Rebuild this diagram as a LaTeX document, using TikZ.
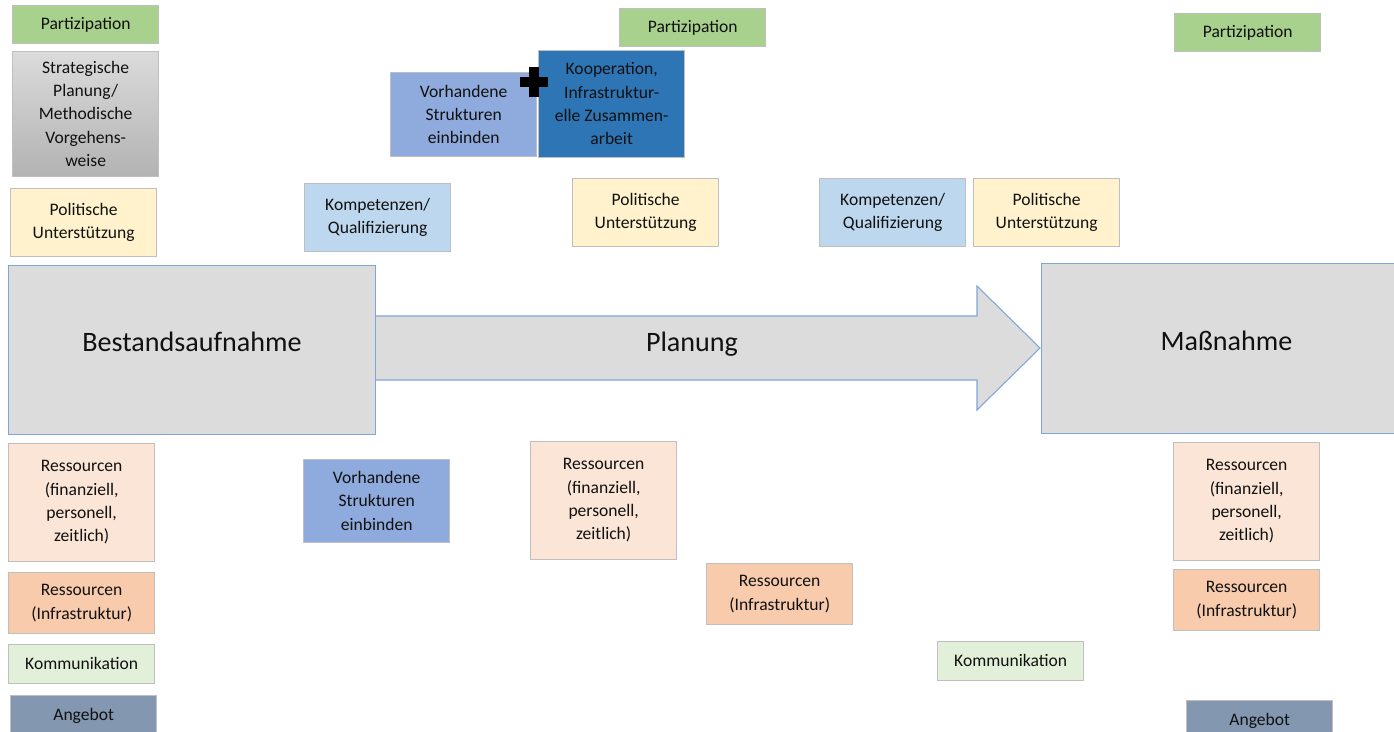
\documentclass[tikz,border=0pt]{standalone}
\usepackage{fontspec}
\setmainfont{Carlito}
\usepackage{tikz}
\usetikzlibrary{shapes}
\definecolor{boxgray}{HTML}{BFBFBF}
\definecolor{edgeblue}{HTML}{7EA6D8}
\definecolor{phasegray}{HTML}{DCDCDC}
\definecolor{partgreen}{HTML}{A9D18E}
\definecolor{polyellow}{HTML}{FFF2CC}
\definecolor{resrose}{HTML}{FBE5D6}
\definecolor{infraorange}{HTML}{F8CBAD}
\definecolor{kommgreen}{HTML}{E2F0D9}
\definecolor{angblue}{HTML}{8497B0}
\definecolor{vorhblue}{HTML}{8FAADC}
\definecolor{koopblue}{HTML}{2E75B6}
\definecolor{kompblue}{HTML}{BDD7EE}
\definecolor{inktext}{HTML}{111111}
\tikzstyle{smallbox} = [rectangle, anchor=north west, minimum width=2.93cm, inner sep=0pt, align=center, draw=boxgray, line width=0.5pt, text=inktext, font=\fontsize{10}{13.3}\selectfont]
\tikzstyle{partbox} = [smallbox, fill=partgreen, minimum height=0.77cm]
\tikzstyle{polbox} = [smallbox, fill=polyellow, minimum height=1.37cm]
\tikzstyle{resbox} = [smallbox, fill=resrose, minimum height=2.36cm]
\tikzstyle{infrabox} = [smallbox, fill=infraorange, minimum height=1.23cm]
\tikzstyle{kommbox} = [smallbox, fill=kommgreen, minimum height=0.78cm]
\tikzstyle{angbox} = [smallbox, fill=angblue, minimum height=0.8cm]
\tikzstyle{vorhbox} = [smallbox, fill=vorhblue, minimum height=1.66cm]
\tikzstyle{kompbox} = [smallbox, fill=kompblue, minimum height=1.37cm]
\tikzstyle{phase} = [rectangle, anchor=north west, draw=edgeblue, fill=phasegray, line width=0.6pt, text=inktext, font=\fontsize{16}{19}\selectfont, text height=11pt, text depth=9pt]
\tikzstyle{phasearrow} = [draw=edgeblue, fill=phasegray, line width=0.6pt, line join=miter]

\begin{document}
\begin{tikzpicture}[x=0.02cm, y=-0.02cm]
\useasboundingbox (0,0) rectangle (1394,731);

% left column
\node (part1) [partbox] at (12,5) {Partizipation};
\node (strat) [smallbox, minimum height=2.5cm, top color=black!14, bottom color=black!30] at (12,51) {Strategische\\Planung/\\Methodische\\Vorgehens-\\weise};
\node (pol1) [polbox] at (10,188) {Politische\\Unterstützung};
\node (res1) [resbox] at (8,443) {Ressourcen\\(finanziell,\\personell,\\zeitlich)};
\node (infra1) [infrabox] at (8,572) {Ressourcen\\(Infrastruktur)};
\node (komm1) [kommbox] at (8,644) {Kommunikation};
\node (ang1) [angbox] at (10,695) {Angebot};

% phase arrow
\draw[phasearrow] (375,316) -- (977,316) -- (977,286) -- (1040,348) -- (977,410) -- (977,380) -- (375,380) -- cycle;
\node (plan) [text=inktext, font=\fontsize{16}{19}\selectfont, text height=11pt, text depth=9pt] at (692,350) {Planung};
\node (bestand) [phase, minimum width=7.34cm, minimum height=3.38cm] at (8,265) {Bestandsaufnahme};
\node (mass) [phase, minimum width=7.4cm, minimum height=3.4cm] at (1041,263) {Maßnahme};

% middle
\node (part2) [partbox] at (619,8) {Partizipation};
\node (vorh1) [vorhbox, minimum height=1.68cm] at (390,72) {Vorhandene\\Strukturen\\einbinden};
\node (koop) [smallbox, fill=koopblue, minimum height=2.14cm] at (538,50) {Kooperation,\\Infrastruktur-\\elle Zusammen-\\arbeit};
% plus between the two boxes
\fill (529,67) rectangle (539,97);
\fill (520,77) rectangle (548,87);
\node (komp1) [kompbox] at (304,183) {Kompetenzen/\\Qualifizierung};
\node (pol2) [polbox] at (572,178) {Politische\\Unterstützung};
\node (komp2) [kompbox] at (819,178) {Kompetenzen/\\Qualifizierung};
\node (pol3) [polbox] at (973,178) {Politische\\Unterstützung};
\node (vorh2) [vorhbox] at (303,459) {Vorhandene\\Strukturen\\einbinden};
\node (res2) [resbox] at (530,441) {Ressourcen\\(finanziell,\\personell,\\zeitlich)};
\node (infra2) [infrabox] at (706,563) {Ressourcen\\(Infrastruktur)};
\node (komm2) [kommbox] at (937,641) {Kommunikation};

% right column
\node (part3) [partbox] at (1174,13) {Partizipation};
\node (res3) [resbox] at (1173,442) {Ressourcen\\(finanziell,\\personell,\\zeitlich)};
\node (infra3) [infrabox] at (1173,569) {Ressourcen\\(Infrastruktur)};
\node (ang2) [angbox] at (1186,700) {Angebot};
\end{tikzpicture}
\end{document}
